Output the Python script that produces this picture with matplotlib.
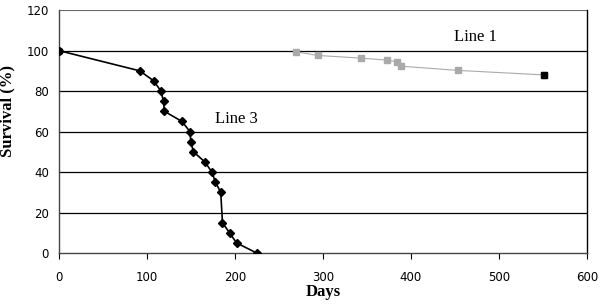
import matplotlib
matplotlib.use("Agg")
import matplotlib.pyplot as plt

line3_days = [0, 92, 108, 116, 119, 120, 140, 149, 150, 153, 166, 174, 178, 184, 186, 194, 202, 225]
line3_surv = [100, 90, 85, 80, 75, 70, 65, 60, 55, 50, 45, 40, 35, 30, 15, 10, 5, 0]
line1_days = [270, 294, 343, 373, 384, 389, 454, 551]
line1_surv = [99.4, 97.6, 96.3, 95.3, 94.5, 92.3, 90.2, 88.0]
xticks = [0, 100, 200, 300, 400, 500, 600]
yticks = [0, 20, 40, 60, 80, 100, 120]

fig = plt.figure(figsize=(6, 3.06), dpi=100)
ax = fig.add_axes([0.098, 0.173, 0.88, 0.794])

for y in yticks[1:-1]:
    ax.axhline(y, color="black", lw=0.9, zorder=1)
ax.axhline(120, color="#666666", lw=1.5, zorder=1)

ax.plot(line1_days, line1_surv, color="#aaaaaa", lw=0.8, marker="s", ms=4.2,
        mfc="#aaaaaa", mec="#aaaaaa", zorder=3)
ax.plot(line1_days[-1:], line1_surv[-1:], ls="none", marker="s", ms=4.5,
        color="black", zorder=4)
ax.plot(line3_days, line3_surv, color="black", lw=1.2, marker="D", ms=3.6, zorder=3)
ax.plot(line3_days[:1], line3_surv[:1], ls="none", marker="o", ms=5, color="black", zorder=4)

ax.text(202, 66, "Line 3", family="Liberation Serif", fontsize=12, ha="center", va="center")
ax.text(473, 106.6, "Line 1", family="Liberation Serif", fontsize=12, ha="center", va="center")

ax.set_xlim(0, 600)
ax.set_ylim(0, 120)
ax.set_xticks(xticks)
ax.set_yticks(yticks)
ax.tick_params(axis="both", labelsize=8.5, width=0.8, direction="out")
ax.tick_params(axis="x", length=4, pad=9)
ax.tick_params(axis="y", length=0, pad=7)
for lab in ax.get_xticklabels() + ax.get_yticklabels():
    lab.set_family("DejaVu Sans")
ax.set_xlabel("Days", family="Liberation Serif", fontweight="bold", fontsize=12, labelpad=0)
ax.set_ylabel("Survival (%)", family="Liberation Serif", fontweight="bold", fontsize=12)
ax.yaxis.set_label_coords(-0.083, 0.584)

ax.spines["top"].set_visible(False)
for s in ["left", "right", "bottom"]:
    ax.spines[s].set_linewidth(1.0)
ax.spines["left"].set_color("#444444")
ax.spines["bottom"].set_color("#444444")

fig.savefig("out.png", dpi=100)
